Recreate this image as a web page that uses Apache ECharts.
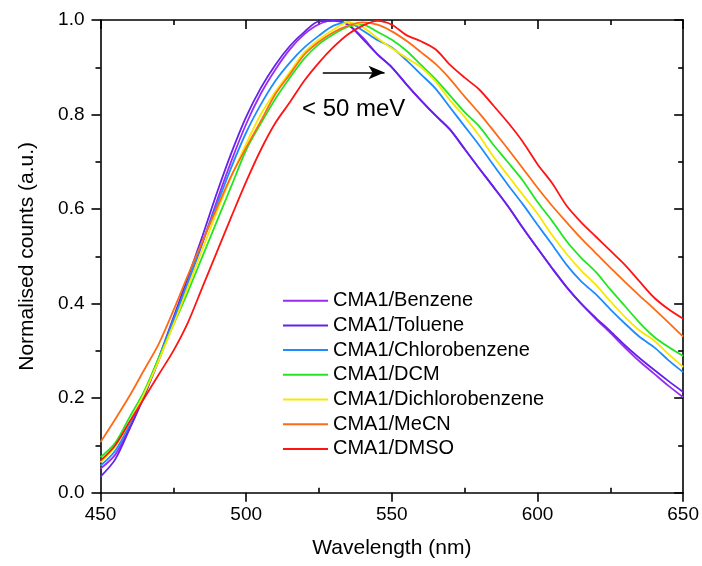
<!DOCTYPE html>
<html>
<head>
<meta charset="utf-8">
<script src="https://cdn.jsdelivr.net/npm/echarts@6/dist/echarts.min.js"></script>
<style>
  html, body { margin: 0; padding: 0; background: #fff; }
  #chart { width: 702px; height: 566px; }
</style>
</head>
<body>
<div id="chart"></div>
<script>
// wavelength grid (nm)
const wavelengths = [450, 455, 460, 465, 470, 475, 480, 485, 490, 495, 500, 505, 510, 515, 520, 525, 530, 535, 540, 545,
  550, 555, 560, 565, 570, 575, 580, 585, 590, 595, 600, 605, 610, 615, 620, 625, 630, 635, 640, 645, 650];

// normalised counts
const benzene = [0.051, 0.080, 0.138, 0.205, 0.280, 0.360, 0.443, 0.528, 0.618, 0.703, 0.780, 0.844, 0.895, 0.938, 0.970, 0.991, 0.999, 0.990, 0.963, 0.928,
  0.900, 0.864, 0.830, 0.798, 0.768, 0.727, 0.686, 0.646, 0.605, 0.560, 0.517, 0.475, 0.435, 0.400, 0.368, 0.338, 0.307, 0.278, 0.252, 0.226, 0.202];
const toluene = [0.034, 0.070, 0.135, 0.205, 0.285, 0.370, 0.455, 0.543, 0.635, 0.720, 0.795, 0.856, 0.905, 0.945, 0.975, 0.997, 0.998, 0.990, 0.960, 0.928,
  0.900, 0.864, 0.830, 0.798, 0.768, 0.727, 0.686, 0.646, 0.605, 0.560, 0.517, 0.475, 0.435, 0.400, 0.370, 0.342, 0.312, 0.285, 0.260, 0.236, 0.213];
const chlorobenzene = [0.057, 0.088, 0.145, 0.210, 0.285, 0.365, 0.445, 0.530, 0.610, 0.690, 0.762, 0.821, 0.871, 0.910, 0.942, 0.967, 0.988, 0.995, 0.978, 0.958,
  0.942, 0.915, 0.885, 0.855, 0.815, 0.775, 0.735, 0.692, 0.650, 0.610, 0.567, 0.525, 0.482, 0.447, 0.420, 0.388, 0.358, 0.330, 0.308, 0.280, 0.255];
const dcm = [0.075, 0.105, 0.160, 0.215, 0.285, 0.355, 0.425, 0.500, 0.575, 0.650, 0.725, 0.781, 0.833, 0.878, 0.919, 0.949, 0.970, 0.986, 0.990, 0.975,
  0.958, 0.935, 0.905, 0.875, 0.840, 0.805, 0.775, 0.735, 0.698, 0.660, 0.615, 0.575, 0.532, 0.497, 0.467, 0.430, 0.395, 0.360, 0.330, 0.308, 0.289];
const dichlorobenzene = [0.064, 0.097, 0.150, 0.210, 0.280, 0.355, 0.435, 0.515, 0.595, 0.670, 0.738, 0.800, 0.848, 0.890, 0.932, 0.959, 0.980, 0.995, 0.985, 0.962,
  0.940, 0.920, 0.900, 0.870, 0.830, 0.795, 0.755, 0.710, 0.670, 0.630, 0.590, 0.545, 0.505, 0.470, 0.440, 0.405, 0.372, 0.343, 0.322, 0.293, 0.266];
const mecn = [0.107, 0.155, 0.205, 0.260, 0.315, 0.385, 0.460, 0.532, 0.603, 0.672, 0.730, 0.786, 0.843, 0.885, 0.927, 0.954, 0.974, 0.988, 0.995, 0.990,
  0.976, 0.956, 0.932, 0.907, 0.875, 0.838, 0.803, 0.765, 0.726, 0.686, 0.645, 0.607, 0.572, 0.538, 0.507, 0.476, 0.446, 0.417, 0.389, 0.360, 0.330];
const dmso = [0.068, 0.100, 0.150, 0.200, 0.250, 0.300, 0.360, 0.435, 0.510, 0.585, 0.658, 0.725, 0.782, 0.826, 0.872, 0.910, 0.943, 0.970, 0.988, 0.998,
  0.990, 0.968, 0.955, 0.938, 0.905, 0.878, 0.853, 0.818, 0.782, 0.742, 0.695, 0.655, 0.607, 0.572, 0.542, 0.512, 0.482, 0.447, 0.413, 0.388, 0.368];

const seriesNames = ['CMA1/Benzene', 'CMA1/Toluene', 'CMA1/Chlorobenzene', 'CMA1/DCM',
  'CMA1/Dichlorobenzene', 'CMA1/MeCN', 'CMA1/DMSO'];
const seriesValues = [benzene, toluene, chlorobenzene, dcm, dichlorobenzene, mecn, dmso];

// arrow annotation: start / end wavelength, height, text
const arrowX = [526.3, 547.5];
const arrowY = 0.889;
const arrowText = '< 50 meV';

const colors = ['#9a2cf2', '#6422ea', '#1e8cff', '#22e622', '#f8e800', '#ff6a14', '#ff1414'];
const font = '"Liberation Sans", Arial, sans-serif';

const chart = echarts.init(document.getElementById('chart'));

const black = { color: '#000', width: 1.6 };

const series = seriesNames.map((name, i) => {
  const s = {
    name,
    type: 'line',
    data: wavelengths.map((w, j) => [w, seriesValues[i][j]]),
    showSymbol: false,
    symbol: 'none',
    smooth: 0.3,
    color: colors[i],
    lineStyle: { width: 1.8, color: colors[i] },
    emphasis: { disabled: true },
    animation: false,
  };
  if (name === 'CMA1/DMSO') {
    s.markLine = {
      silent: true,
      animation: false,
      symbol: ['none', 'arrow'],
      symbolSize: [10, 16],
      lineStyle: { color: '#000', width: 1.5, type: 'solid' },
      label: {
        show: true,
        formatter: arrowText,
        position: 'insideMiddleBottom',
        distance: 25,
        fontSize: 24,
        color: '#000',
        fontFamily: font,
      },
      data: [[{ coord: [arrowX[0], arrowY] }, { coord: [arrowX[1], arrowY] }]],
    };
  }
  return s;
});

const option = {
  animation: false,
  textStyle: { fontFamily: font },
  grid: { left: 100.5, right: 17.7, top: 20, bottom: 73.3, containLabel: false },
  legend: {
    data: seriesNames,
    orient: 'vertical',
    left: 283,
    top: 290.7,
    padding: 0,
    icon: 'rect',
    itemWidth: 45,
    itemHeight: 2,
    itemGap: 4.7,
    textStyle: { fontSize: 20, color: '#000', lineHeight: 20, fontFamily: font },
    selectedMode: false,
  },
  xAxis: [
    {
      type: 'value',
      min: 450,
      max: 650,
      interval: 50,
      position: 'bottom',
      name: 'Wavelength (nm)',
      nameLocation: 'middle',
      nameGap: 45,
      nameTextStyle: { fontSize: 21, color: '#000', fontFamily: font },
      axisLine: { show: true, onZero: false, lineStyle: black },
      axisTick: { show: true, length: 9, lineStyle: black },
      minorTick: { show: true, splitNumber: 2, length: -5, lineStyle: black },
      axisLabel: { fontSize: 19, color: '#000', margin: 13, fontFamily: font },
      splitLine: { show: false },
    },
    {
      type: 'value',
      min: 450,
      max: 650,
      interval: 50,
      position: 'top',
      axisLine: { show: true, onZero: false, lineStyle: black },
      axisTick: { show: true, inside: true, length: 9, lineStyle: black },
      minorTick: { show: true, splitNumber: 2, length: 5, lineStyle: black },
      axisLabel: { show: false },
      splitLine: { show: false },
    },
  ],
  yAxis: [
    {
      type: 'value',
      min: 0,
      max: 1,
      interval: 0.2,
      position: 'left',
      name: 'Normalised counts (a.u.)',
      nameLocation: 'middle',
      nameGap: 63,
      nameTextStyle: { fontSize: 21, color: '#000', fontFamily: font },
      axisLine: { show: true, onZero: false, lineStyle: black },
      axisTick: { show: true, length: 9, lineStyle: black },
      minorTick: { show: true, splitNumber: 2, length: 5, lineStyle: black },
      axisLabel: { fontSize: 19, color: '#000', margin: 16, fontFamily: font, formatter: v => v.toFixed(1) },
      splitLine: { show: false },
    },
    {
      type: 'value',
      min: 0,
      max: 1,
      interval: 0.2,
      position: 'right',
      axisLine: { show: true, onZero: false, lineStyle: black },
      axisTick: { show: true, inside: true, length: 9, lineStyle: black },
      minorTick: { show: true, splitNumber: 2, length: 5, lineStyle: black },
      axisLabel: { show: false },
      splitLine: { show: false },
    },
  ],
  series,
};

chart.setOption(option);
</script>
</body>
</html>
